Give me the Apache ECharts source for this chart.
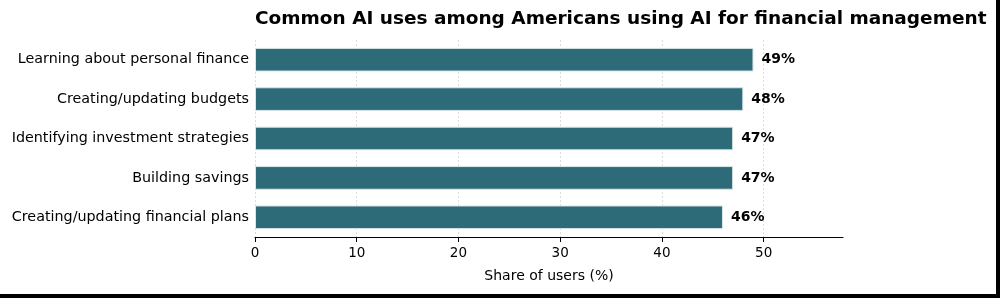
<!DOCTYPE html>
<html>
<head>
<meta charset="utf-8">
<script src="https://cdn.jsdelivr.net/npm/echarts@6/dist/echarts.min.js"></script>
<style>
html, body { margin: 0; padding: 0; background: #fff; }
#chart { width: 1000px; height: 298px; }
</style>
</head>
<body>
<div id="chart"></div>
<script>
var categories = [
    'Learning about personal finance',
    'Creating/updating budgets',
    'Identifying investment strategies',
    'Building savings',
    'Creating/updating financial plans'
];
var shares = [49, 48, 47, 47, 46];
var xTicks = [0, 10, 20, 30, 40, 50];

var chart = echarts.init(document.getElementById('chart'));
var font = 'DejaVu Sans';

var option = {
    animation: false,
    backgroundColor: '#fff',
    title: {
        text: 'Common AI uses among Americans using AI for financial management',
        left: 255,
        top: 10,
        padding: 0,
        textStyle: { fontFamily: font, fontSize: 18.5, fontWeight: 'bold', color: '#000' }
    },
    grid: { left: 255, right: 157, top: 40, bottom: 61 },
    xAxis: {
        type: 'value',
        min: 0,
        max: 57.8,
        interval: 10,
        name: 'Share of users (%)',
        nameLocation: 'middle',
        nameGap: 32,
        nameTextStyle: { fontFamily: font, fontSize: 14, color: '#000' },
        axisLine: { show: true, lineStyle: { color: '#000', width: 1.2 } },
        axisTick: { show: true, length: 5, lineStyle: { color: '#000' }, customValues: xTicks },
        axisLabel: {
            fontFamily: font, fontSize: 13.5, color: '#000', margin: 9,
            customValues: xTicks
        },
        splitLine: { show: true, lineStyle: { color: '#d4d4d4', type: [2, 2], width: 0.8 } }
    },
    yAxis: {
        type: 'category',
        inverse: true,
        data: categories,
        axisLine: { show: false },
        axisTick: { show: false },
        axisLabel: { fontFamily: font, fontSize: 14.3, color: '#000', margin: 6, padding: [3, 0, 0, 0] }
    },
    series: [{
        type: 'bar',
        data: shares,
        barWidth: '60%',
        itemStyle: { color: '#2e6b78', borderColor: '#d8e6e9', borderWidth: 1 },
        label: {
            show: true,
            position: 'right',
            distance: 8,
            formatter: '{c}%',
            fontFamily: font,
            fontSize: 14,
            fontWeight: 'bold',
            color: '#000',
            padding: [2, 0, 0, 0]
        }
    }],
    graphic: [
        { type: 'rect', shape: { x: 996, y: 0, width: 4, height: 298 }, style: { fill: '#000' } },
        { type: 'rect', shape: { x: 0, y: 294, width: 1000, height: 4 }, style: { fill: '#000' } }
    ]
};
chart.setOption(option);
</script>
</body>
</html>
